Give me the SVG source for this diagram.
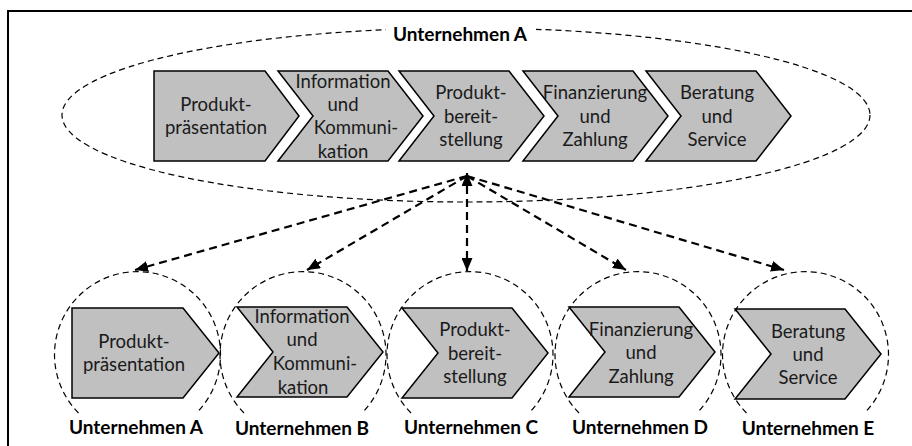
<svg xmlns="http://www.w3.org/2000/svg" width="912" height="446" viewBox="0 0 912 446">
  <style>
    .frame { fill: none; stroke: #000; stroke-width: 2; }
    .group { fill: none; stroke: #000; stroke-width: 1.2; stroke-dasharray: 6 4; }
    .step { fill: #c0c0c0; stroke: #000; stroke-width: 1.5; stroke-linejoin: miter; }
    .lbl { font-family: Lato, "Liberation Sans", sans-serif; font-size: 18.5px; fill: #1a1a1a; text-anchor: middle; }
    .co { font-family: Lato, "Liberation Sans", sans-serif; font-size: 19px; font-weight: bold; fill: #000; text-anchor: middle; }
    .link { fill: none; stroke: #000; stroke-width: 2.2; stroke-dasharray: 8 5; }
  </style>
  <defs>
    <marker id="head" viewBox="0 0 13 11" refX="13" refY="5.5" markerWidth="13" markerHeight="11" markerUnits="userSpaceOnUse" orient="auto-start-reverse">
      <path d="M0,0 L13,5.5 L0,11 Z" fill="#000"/>
    </marker>
  </defs>

  <rect class="frame" x="8" y="11" width="920" height="460"/>

  <!-- company A: the whole value chain in one firm -->
  <g id="company-a-all">
    <ellipse class="group" cx="466" cy="115" rx="404" ry="87"/>
    <rect x="386" y="22" width="150" height="24" fill="#fff"/>
    <text class="co" x="460" y="41">Unternehmen A</text>
  </g>

  <g id="top-step-1">
    <polygon class="step" points="154,71 265,71 299,116 265,161 154,161"/>
    <text class="lbl" x="216" y="111">Produkt-</text>
    <text class="lbl" x="216" y="134">präsentation</text>
  </g>
  <g id="top-step-2">
    <polygon class="step" points="278,71 388,71 423,116 388,161 278,161 313,116"/>
    <text class="lbl" x="343" y="88">Information</text>
    <text class="lbl" x="343" y="111">und</text>
    <text class="lbl" x="356" y="134">Kommuni-</text>
    <text class="lbl" x="343" y="158">kation</text>
  </g>
  <g id="top-step-3">
    <polygon class="step" points="399,71 509,71 544,116 509,161 399,161 434,116"/>
    <text class="lbl" x="471" y="99">Produkt-</text>
    <text class="lbl" x="471" y="123">bereit-</text>
    <text class="lbl" x="471" y="146">stellung</text>
  </g>
  <g id="top-step-4">
    <polygon class="step" points="523,71 633,71 668,116 633,161 523,161 558,116"/>
    <text class="lbl" x="595" y="99">Finanzierung</text>
    <text class="lbl" x="595" y="123">und</text>
    <text class="lbl" x="595" y="146">Zahlung</text>
  </g>
  <g id="top-step-5">
    <polygon class="step" points="646,71 756,71 791,116 756,161 646,161 681,116"/>
    <text class="lbl" x="717" y="99">Beratung</text>
    <text class="lbl" x="717" y="123">und</text>
    <text class="lbl" x="717" y="146">Service</text>
  </g>

  <!-- split of the chain across five firms -->
  <g id="connectors">
    <line class="link" x1="467" y1="176" x2="135" y2="270" marker-end="url(#head)"/>
    <line class="link" x1="467" y1="176" x2="307" y2="270" marker-end="url(#head)"/>
    <line class="link" x1="467" y1="173" x2="467" y2="271" marker-start="url(#head)" marker-end="url(#head)"/>
    <line class="link" x1="467" y1="176" x2="626" y2="270" marker-end="url(#head)"/>
    <line class="link" x1="467" y1="176" x2="784" y2="270" marker-end="url(#head)"/>
  </g>

  <g id="company-a">
    <path class="group" d="M78.5,413 A83,83 0 1 1 196.5,413"/>
    <polygon class="step" points="72,308 183,308 219,353 183,398 72,398"/>
    <text class="lbl" x="134" y="348">Produkt-</text>
    <text class="lbl" x="134" y="371">präsentation</text>
    <text class="co" x="136" y="434">Unternehmen A</text>
  </g>
  <g id="company-b">
    <path class="group" d="M244,413 A83,83 0 1 1 362,413"/>
    <polygon class="step" points="237,307 347,307 383,352 347,397 237,397 273,352"/>
    <text class="lbl" x="302" y="323">Information</text>
    <text class="lbl" x="302" y="346">und</text>
    <text class="lbl" x="315" y="370">Kommuni-</text>
    <text class="lbl" x="303" y="394">kation</text>
    <text class="co" x="302" y="435">Unternehmen B</text>
  </g>
  <g id="company-c">
    <path class="group" d="M411,413 A83,83 0 1 1 529,413"/>
    <polygon class="step" points="402,308 512,308 548,353 512,398 402,398 438,353"/>
    <text class="lbl" x="475" y="336">Produkt-</text>
    <text class="lbl" x="475" y="360">bereit-</text>
    <text class="lbl" x="475" y="383">stellung</text>
    <text class="co" x="471" y="434">Unternehmen C</text>
  </g>
  <g id="company-d">
    <path class="group" d="M579,413 A83,83 0 1 1 697,413"/>
    <polygon class="step" points="569,307 679,307 715,352 679,397 569,397 605,352"/>
    <text class="lbl" x="641" y="336">Finanzierung</text>
    <text class="lbl" x="641" y="359">und</text>
    <text class="lbl" x="641" y="383">Zahlung</text>
    <text class="co" x="640" y="434">Unternehmen D</text>
  </g>
  <g id="company-e">
    <path class="group" d="M746.5,413 A83,83 0 1 1 864.5,413"/>
    <polygon class="step" points="735,309 845,309 881,354 845,399 735,399 771,354"/>
    <text class="lbl" x="808" y="338">Beratung</text>
    <text class="lbl" x="808" y="361">und</text>
    <text class="lbl" x="808" y="384">Service</text>
    <text class="co" x="808" y="435">Unternehmen E</text>
  </g>
</svg>
